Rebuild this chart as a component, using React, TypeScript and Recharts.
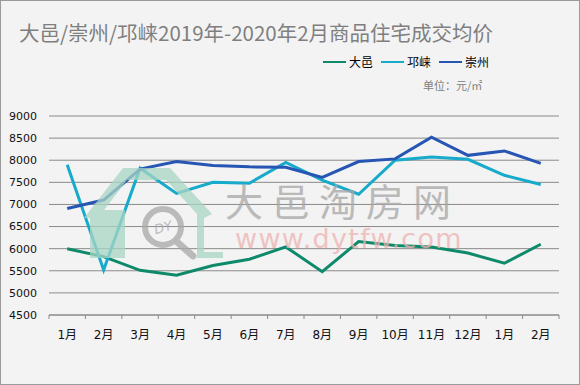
import React from 'react';
import { LineChart, Line, XAxis, YAxis, CartesianGrid } from 'recharts';

const months = ['1月', '2月', '3月', '4月', '5月', '6月', '7月', '8月', '9月', '10月', '11月', '12月', '1月', '2月'];
const dayi = [6000, 5820, 5510, 5400, 5620, 5760, 6040, 5480, 6160, 6070, 6040, 5900, 5670, 6100];
const qionglai = [7900, 5520, 7820, 7250, 7500, 7480, 7950, 7550, 7230, 8000, 8070, 8020, 7660, 7450];
const chongzhou = [6910, 7100, 7800, 7970, 7880, 7850, 7840, 7610, 7970, 8030, 8520, 8110, 8210, 7930];
const yTicks = [4500, 5000, 5500, 6000, 6500, 7000, 7500, 8000, 8500, 9000];

const data = months.map((m, i) => ({
  key: i,
  month: m,
  dayi: dayi[i],
  qionglai: qionglai[i],
  chongzhou: chongzhou[i],
}));

const W = 580;
const H = 385;
const PLOT_LEFT = 49;
const PLOT_RIGHT = 559;
const HALF = (PLOT_RIGHT - PLOT_LEFT) / months.length / 2;

const GREEN = '#0e8a6a';
const CYAN = '#16aacb';
const BLUE = '#2655b3';
const GRID = '#8a8a8a';
const FONT = '"DejaVu Sans", "Noto Sans CJK SC", sans-serif';

const MonthTick = (props: any) => {
  const { x, y, payload, index } = props;
  return (
    <g>
      <line x1={x - HALF} x2={x - HALF} y1={y} y2={y + 4} stroke={GRID} />
      {index === months.length - 1 && (
        <line x1={x + HALF} x2={x + HALF} y1={y} y2={y + 4} stroke={GRID} />
      )}
      <text x={x} y={y + 24} textAnchor="middle" fontSize={12} fill="#111" fontFamily={FONT}>
        {months[payload.value]}
      </text>
    </g>
  );
};

const LegendItem: React.FC<{ color: string; label: string }> = ({ color, label }) => (
  <div style={{ display: 'flex', alignItems: 'center', marginRight: 8 }}>
    <span style={{ width: 23, height: 2, background: color, display: 'inline-block', marginRight: 3 }} />
    <span>{label}</span>
  </div>
);

const Watermark = () => (
  <svg width={W} height={H} style={{ position: 'absolute', left: 0, top: 0, pointerEvents: 'none' }}>
    <g opacity={0.75}>
      <path
        d="M123 168 L170 168 L212 214 L204 218 L204 252 L223 252 L223 258 L197 258 L197 214 L166 180 L127 180 L104 210 L125 210 L125 258 L90 258 L90 218 L84 218 Z"
        fill="#a9d6c5"
      />
      <circle cx={163} cy={227} r={18} fill="none" stroke="#a8a8a8" strokeWidth={6} />
      <line x1={176} y1={241} x2={193} y2={256} stroke="#a8a8a8" strokeWidth={7} strokeLinecap="round" />
      <text x={163} y={232} textAnchor="middle" fontSize={13} fontStyle="italic" fill="#a8a8a8" fontFamily="DejaVu Sans" transform="rotate(-15 163 227)">
        DY
      </text>
      <text x={225} y={216} fontSize={38} fill="#a6a6a6" fontFamily='"Noto Sans CJK SC"' letterSpacing={9}>
        大邑淘房网
      </text>
      <text x={235} y={248} fontSize={27} fill="#eeb2b2" fontFamily="DejaVu Sans" letterSpacing={1.3}>
        www.dytfw.com
      </text>
    </g>
  </svg>
);

export default function App() {
  return (
    <div
      style={{
        position: 'fixed',
        left: 0,
        top: 0,
        width: W,
        height: H,
        background: '#f3f3f3',
        fontFamily: '"Noto Sans CJK SC", sans-serif',
        overflow: 'hidden',
      }}
    >
      <div style={{ position: 'absolute', left: 19, top: 18, fontSize: 20.5, color: '#7f7f7f', whiteSpace: 'nowrap', lineHeight: '28px' }}>
        大邑/崇州/邛崃2019年-2020年2月商品住宅成交均价
      </div>
      <div style={{ position: 'absolute', left: 323, top: 53, display: 'flex', fontSize: 12, color: '#000', lineHeight: '18px' }}>
        <LegendItem color={GREEN} label="大邑" />
        <LegendItem color={CYAN} label="邛崃" />
        <LegendItem color={BLUE} label="崇州" />
      </div>
      <div style={{ position: 'absolute', left: 423, top: 77, fontSize: 11, color: '#808080', lineHeight: '16px', whiteSpace: 'nowrap' }}>
        单位：元/㎡
      </div>
      <div style={{ position: 'absolute', left: 0, top: 0 }}>
        <LineChart width={W} height={H} data={data} margin={{ top: 116, right: W - PLOT_RIGHT, bottom: 40, left: 0 }}>
          <CartesianGrid vertical={false} stroke={GRID} strokeWidth={1} />
          <XAxis
            dataKey="key"
            type="category"
            height={30}
            padding={{ left: HALF, right: HALF }}
            tickLine={false}
            tickSize={0}
            tickMargin={0}
            axisLine={{ stroke: GRID }}
            interval={0}
            tick={<MonthTick />}
          />
          <YAxis
            width={PLOT_LEFT}
            domain={[4500, 9000]}
            ticks={yTicks}
            axisLine={false}
            tickLine={false}
            tick={{ fontSize: 11, fill: '#111', fontFamily: FONT, dx: -4 }}
            interval={0}
          />
          <Line dataKey="dayi" stroke={GREEN} strokeWidth={3} dot={false} isAnimationActive={false} />
          <Line dataKey="qionglai" stroke={CYAN} strokeWidth={3} dot={false} isAnimationActive={false} />
          <Line dataKey="chongzhou" stroke={BLUE} strokeWidth={3} dot={false} isAnimationActive={false} />
        </LineChart>
      </div>
      <Watermark />
      <div style={{ position: 'absolute', inset: 0, border: '1px solid #9a9a9a', pointerEvents: 'none' }} />
    </div>
  );
}
